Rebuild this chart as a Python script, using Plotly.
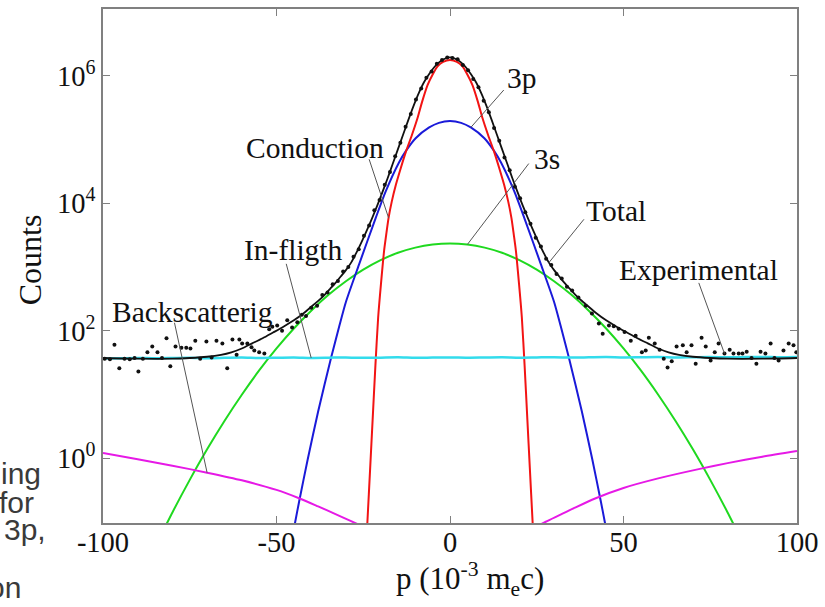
import plotly.graph_objects as go

# ---- momentum axis values (10^-3 m_e c) and counts for each component ----
p_cond = [-24.3, -23.8, -23.0, -22.3, -21.5, -20.7, -19.9, -19.0, -18.4, -17.7, -16.8, -15.6,
          -14.2, -12.7, -11.0, -9.4, -8.0, -6.5, -5.0, -3.6, -2.0, 0.0,
          2.0, 3.6, 5.0, 6.5, 8.0, 9.4, 11.0, 12.7, 14.2, 15.6, 16.8, 17.7, 18.4, 19.0,
          19.9, 20.7, 21.5, 22.3, 23.0, 23.8, 24.3]
conduction = [0.0316, 0.1, 0.708, 3.98, 28.2, 162, 537, 1780, 3160, 5890, 1.05e4, 1.95e4,
              3.55e4, 6.46e4, 1.17e5, 2.14e5, 3.98e5, 7.08e5, 1.05e6, 1.41e6, 1.66e6, 1.78e6,
              1.66e6, 1.41e6, 1.05e6, 7.08e5, 3.98e5, 2.14e5, 1.17e5, 6.46e4, 3.55e4, 1.95e4,
              1.05e4, 5890, 3160, 1780, 537, 162, 28.2, 3.98, 0.708, 0.1, 0.0316]

p_3p = [-45.3, -44.6, -43.5, -41.0, -38.0, -34.2, -31.9, -30.0, -26.2, -21.4, -18.5, -14.7,
        -12.6, -9.9, -6.0, -3.2, 0.0, 3.2, 6.0, 9.9, 12.6, 14.7, 18.5, 21.4, 26.2, 30.0,
        31.9, 34.2, 38.0, 41.0, 43.5, 44.6, 45.3]
orb_3p = [0.063, 0.1, 0.204, 0.955, 5.37, 38.9, 118, 282, 1100, 5890, 1.55e4, 4.37e4,
          6.76e4, 1.05e5, 1.55e5, 1.83e5, 1.95e5, 1.83e5, 1.55e5, 1.05e5, 6.76e4, 4.37e4,
          1.55e4, 5890, 1100, 282, 118, 38.9, 5.37, 0.955, 0.204, 0.1, 0.063]

p_3s = [-83, -80, -75, -70, -65, -60, -55, -50, -45, -40, -35, -30, -25, -20, -15, -10, -5, 0,
        5, 10, 15, 20, 25, 30, 35, 40, 45, 50, 55, 60, 65, 70, 75, 80, 83]
orb_3s = [0.066, 0.14, 0.454, 1.37, 3.82, 9.86, 23.7, 52.5, 108, 206, 365, 597, 908, 1280,
          1670, 2010, 2250, 2340, 2250, 2010, 1670, 1280, 908, 597, 365, 206, 108, 52.5,
          23.7, 9.86, 3.82, 1.37, 0.454, 0.14, 0.066]

p_back = [-100, -90, -80, -70, -60, -50, -43.5, -38, -33, -28.5, -24, None,
          24, 27.6, 32, 36, 42, 50, 60, 72, 80, 90, 100]
backscattering = [1.20, 0.955, 0.759, 0.589, 0.447, 0.316, 0.234, 0.174, 0.132, 0.102, 0.079, None,
                  0.079, 0.100, 0.130, 0.166, 0.234, 0.339, 0.479, 0.676, 0.832, 1.05, 1.29]

p_flight = [-100, -95, -90, -85, -80, -75, -70, -65, -60, -55, -50, -45, -40, -35, -30, -25,
            -20, -15, -10, -5, 0, 5, 10, 15, 20, 25, 30, 35, 40, 45, 50, 55, 60, 65, 70, 75,
            80, 85, 90, 95, 100]
in_flight = [36.5, 36.9, 37.3, 36.8, 37.2, 37.6, 37.0, 37.4, 37.8, 37.2, 37.5, 37.9, 37.3,
             37.6, 38.0, 37.4, 37.7, 38.1, 37.5, 37.8, 38.0, 37.6, 37.9, 38.2, 37.7, 38.0,
             38.3, 37.8, 38.1, 38.4, 37.9, 38.2, 38.5, 38.0, 38.3, 38.6, 38.1, 38.4, 38.7,
             38.2, 38.5]

p_total = [-100, -90, -80, -75, -70, -66, -63, -60, -57, -54, -51, -48, -45, -42, -39, -37.5,
           -36, -34.5, -33, -31.5, -30, -28.5, -27, -25.5, -24, -22.5, -21, -19.5, -18, -16.5,
           -15, -13.5, -12, -10.5, -9, -7.5, -6, -4.5, -3, -1.5, 0,
           1.5, 3, 4.5, 6, 7.5, 9, 10.5, 12, 13.5, 15, 16.5, 18, 19.5, 21, 22.5, 24, 25.5, 27,
           28.5, 30, 31.5, 33, 34.5, 36, 37.5, 39, 42, 45, 48, 51, 54, 57, 60, 63, 66, 70, 75,
           80, 90, 100]
total = [37.2, 36.3, 36.3, 37.2, 38.9, 41.7, 45.7, 52.5, 63.1, 75.9, 93.3, 115, 145, 191, 263,
         309, 372, 457, 562, 708, 891, 1170, 1660, 2450, 3720, 5750, 9120, 1.48e4, 2.45e4,
         4.17e4, 7.08e4, 1.20e5, 2.04e5, 3.39e5, 5.37e5, 7.94e5, 1.07e6, 1.38e6, 1.66e6,
         1.86e6, 1.95e6,
         1.86e6, 1.66e6, 1.38e6, 1.07e6, 7.94e5, 5.37e5, 3.39e5, 2.04e5, 1.20e5, 7.08e4,
         4.17e4, 2.45e4, 1.48e4, 9120, 5750, 3720, 2450, 1660, 1170, 891, 708, 562, 457, 372,
         309, 263, 191, 145, 115, 93.3, 75.9, 63.1, 52.5, 45.7, 41.7, 38.9, 37.2, 36.3, 36.3,
         37.2]

p_exp = [-99.5, -98.0, -96.7, -95.3, -93.8, -92.3, -90.9, -89.8, -88.5, -87.2, -85.8, -84.3,
         -83.0, -81.7, -80.6, -79.1, -77.4, -76.0, -74.8, -73.4, -72.0, -70.2, -68.7, -67.3,
         -65.6, -64.2, -62.7, -61.5, -60.7, -59.9, -58.4, -57.2, -56.4, -55.0, -53.5, -52.1,
         -51.2, -49.8, -48.4, -46.9, -45.5, -44.0, -42.7, -41.5, -40.0, -38.3,
         -36.8, -35.3, -33.8, -32.3, -30.8, -29.3, -27.8, -26.3, -24.8, -23.3, -21.8, -20.3,
         -18.8, -17.3, -15.8, -14.3, -12.8, -11.3, -9.8, -8.3, -6.8, -5.3, -3.8, -2.3, -0.8,
         0.7, 2.2, 3.7, 5.2, 6.7, 8.2, 9.7, 11.2, 12.7, 14.2, 15.7, 17.2, 18.7, 20.2, 21.7,
         23.2, 24.7, 26.2, 27.7, 29.2, 30.7, 32.2, 33.7, 35.2,
         37.0, 39.1, 40.9, 42.9, 44.0, 45.8, 47.2, 48.6, 50.3, 52.1, 53.5, 55.3, 56.4, 57.3,
         59.0, 60.4, 61.6, 62.7, 63.9, 65.3, 67.1, 68.2, 69.6, 70.8, 72.5, 73.7, 75.1, 76.3,
         77.4, 79.1, 80.6, 81.7, 83.2, 84.3, 85.5, 86.9, 88.3, 89.5, 90.9, 92.4, 93.5, 94.7,
         96.1, 97.6, 99.0, 99.8]
experimental = [36.3, 35.5, 60.3, 25.7, 36.3, 35.5, 37.2, 22.9, 36.3, 45.7, 56.2, 45.7,
                37.2, 75.9, 27.5, 56.2, 53.7, 53.7, 52.5, 69.2, 36.3, 67.6, 38.0, 69.2,
                63.1, 25.7, 72.4, 41.7, 72.4, 63.1, 63.1, 55.0, 49.0, 45.7, 43.7, 105,
                115, 120, 100, 145, 112, 135, 178, 170, 229, 245,
                363, 398, 537, 603, 851, 1000, 1445, 1905, 3090, 4467, 7762, 1.122e4,
                1.950e4, 3.090e4, 5.495e4, 8.913e4, 1.585e5, 2.512e5, 4.266e5, 6.310e5,
                9.333e5, 1.175e6, 1.549e6, 1.778e6, 1.950e6,
                1.905e6, 1.820e6, 1.479e6, 1.230e6, 8.913e5, 6.607e5, 4.074e5, 2.692e5,
                1.514e5, 9.550e4, 5.248e4, 3.311e4, 1.820e4, 1.202e4, 7244, 4786, 2884,
                2089, 1349, 1072, 776, 661, 490, 427,
                331, 245, 186, 129, 89.1, 120, 117, 107, 95.5, 69.2, 83.2, 45.7, 49.0, 77.6,
                63.1, 50.1, 36.3, 26.3, 33.1, 56.2, 58.9, 45.7, 58.9, 30.2, 77.6, 56.2, 33.9,
                45.7, 63.1, 43.7, 50.1, 43.7, 43.7, 43.7, 46.8, 37.2, 30.2, 46.8, 43.7, 63.1,
                37.2, 33.9, 49.0, 63.1, 58.9, 45.7]

x_ticks = [-100, -50, 0, 50, 100]
x_tick_text = ["-100", "-50", "0", "50", "100"]
y_ticks = [1, 1e2, 1e4, 1e6]
y_tick_text = ["10<sup>0</sup>", "10<sup>2</sup>", "10<sup>4</sup>", "10<sup>6</sup>"]

SERIF = "Liberation Serif, Times New Roman, serif"
SANS = "Liberation Sans, Arial, sans-serif"
W, H = 825, 607
L, R, T, B = 103, 26, 7, 84

fig = go.Figure()

def curve(x, y, color, width):
    fig.add_trace(go.Scatter(x=x, y=y, mode="lines", connectgaps=False,
                             line=dict(color=color, width=width, shape="spline", smoothing=0.7),
                             hoverinfo="skip"))

curve(p_3s, orb_3s, "#1fd91f", 2)
curve(p_3p, orb_3p, "#1a1ad9", 2)
curve(p_cond, conduction, "#f21414", 2)
curve(p_back, backscattering, "#e619e6", 2)
curve(p_flight, in_flight, "#33dcec", 2.5)
curve(p_total, total, "#111111", 1.8)
fig.add_trace(go.Scatter(x=p_exp, y=experimental, mode="markers",
                         marker=dict(color="#111111", size=4), hoverinfo="skip"))

def paper(px, py):
    return (px - L) / (W - L - R), (H - B - py) / (H - T - B)

# leader lines: from near each label to a point on its curve
leaders = [
    ("3p", (523, 76), (15.5, 6.0e5), (p_3p[18], orb_3p[18])),
    ("3s", (548, 158), (22.7, 4.2e4), (p_3s[18], orb_3s[18])),
    ("Total", (617, 210), (38.6, 5.6e3), (p_total[59], total[59])),
    ("Experimental", (700, 269), (71.7, 562), (p_exp[124], experimental[124])),
    ("Conduction", (316, 147), (-23.3, 4.9e4), (p_cond[9], conduction[9])),
    ("In-fligth", (294, 249), (-47.2, 1.12e3), (p_flight[12], in_flight[12])),
    ("Backscatterig", (193, 311), (-79.4, 133), (p_back[3], backscattering[3])),
]
shapes = []
annotations = []
for text, (tx, ty), tail, head in leaders:
    shapes.append(dict(type="line", xref="x", yref="y", x0=tail[0], y0=tail[1],
                       x1=head[0], y1=head[1], line=dict(color="#555555", width=1)))
    xp, yp = paper(tx, ty)
    annotations.append(dict(text=text, x=xp, y=yp, xref="paper", yref="paper",
                            showarrow=False, xanchor="center", yanchor="middle",
                            font=dict(family=SERIF, size=29.5, color="#111111")))

# axis titles
xp, yp = paper(471, 579)
annotations.append(dict(text="p (10<sup>-3</sup> m<sub>e</sub>c)", x=xp, y=yp, xref="paper",
                        yref="paper", showarrow=False, xanchor="center", yanchor="middle",
                        font=dict(family=SERIF, size=31, color="#111111")))
xp, yp = paper(30, 259)
annotations.append(dict(text="Counts", x=xp, y=yp, xref="paper", yref="paper", textangle=-90,
                        showarrow=False, xanchor="center", yanchor="middle",
                        font=dict(family=SERIF, size=32, color="#111111")))

# caption fragments along the left edge
for frag, right, base in [("ing", 43, 483), ("for", 36, 512), ("3p,", 48, 540), ("on", 23, 598)]:
    xp, yp = paper(right, base - 10)
    annotations.append(dict(text=frag, x=xp, y=yp, xref="paper", yref="paper",
                            showarrow=False, xanchor="right", yanchor="middle",
                            font=dict(family=SANS, size=30, color="#3a3a3a")))

axis_style = dict(showgrid=False, zeroline=False, showline=True, linecolor="#808080",
                  linewidth=1.5, mirror="ticks", ticks="inside", ticklen=7, tickwidth=1.2,
                  tickcolor="#808080", tickfont=dict(family=SERIF, size=28.5, color="#111111"))

fig.update_layout(
    width=W, height=H, margin=dict(l=L, r=R, t=T, b=B),
    paper_bgcolor="white", plot_bgcolor="white", showlegend=False,
    xaxis=dict(range=[-100, 100], tickvals=x_ticks, ticktext=x_tick_text,
               ticklabelstandoff=-7, **axis_style),
    yaxis=dict(type="log", range=[-1.02, 7.05], tickvals=y_ticks, ticktext=y_tick_text,
               **axis_style),
    shapes=shapes, annotations=annotations,
)

fig.write_html("out.html")
